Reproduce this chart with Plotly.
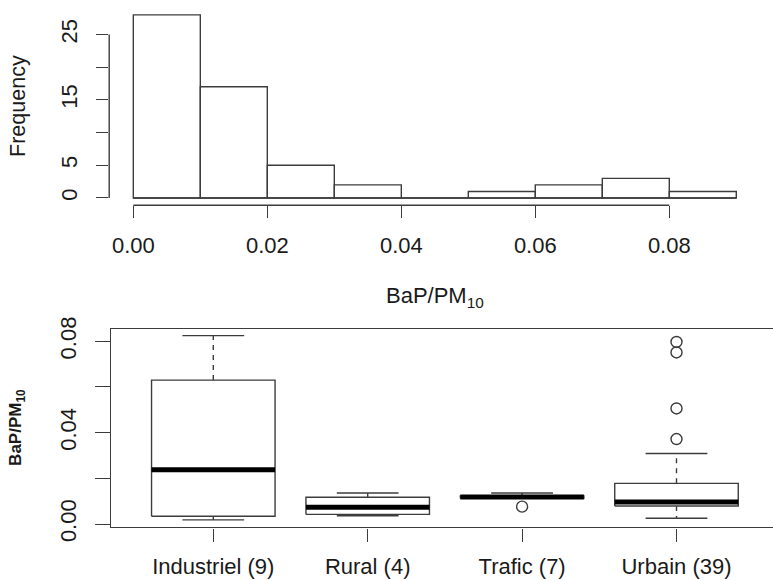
import plotly.graph_objects as go

# ---------------- data ----------------
bin_edges = [0.00, 0.01, 0.02, 0.03, 0.04, 0.05, 0.06, 0.07, 0.08, 0.09]
counts = [28, 17, 5, 2, 0, 1, 2, 3, 1]
hist_xticks = [0.00, 0.02, 0.04, 0.06, 0.08]
hist_yticks = [0, 5, 10, 15, 20, 25]
hist_ylabeled = [0, 5, 15, 25]

categories = ["Industriel (9)", "Rural (4)", "Trafic (7)", "Urbain (39)"]
lower = [0.0018, 0.0036, 0.0113, 0.0025]
q1 = [0.0034, 0.0042, 0.0113, 0.0079]
median = [0.0237, 0.0073, 0.0118, 0.0096]
q3 = [0.0630, 0.0117, 0.0123, 0.0178]
upper = [0.0825, 0.0136, 0.0136, 0.0309]
outliers = [[], [], [0.0076], [0.0372, 0.0506, 0.0751, 0.0797]]
box_yticks = [0.00, 0.02, 0.04, 0.06, 0.08]
box_ylabeled = [0.00, 0.04, 0.08]

# ---------------- style ----------------
LINE = "#3c3c3c"
TXT = "#1a1a1a"
FONT = "Liberation Sans, Arial, sans-serif"
FS = 22
W, H = 773, 581

def px(x):
    return x / W

def py(y):
    return 1 - y / H

fig = go.Figure()

# Histogram bars
centers = [(a + b) / 2 for a, b in zip(bin_edges[:-1], bin_edges[1:])]
widths = [b - a for a, b in zip(bin_edges[:-1], bin_edges[1:])]
fig.add_trace(go.Bar(
    x=centers, y=counts, width=widths,
    marker=dict(color="white", line=dict(color=LINE, width=1.4)),
    xaxis="x", yaxis="y", hoverinfo="skip"))
fig.add_trace(go.Scatter(
    x=[bin_edges[0], bin_edges[-1]], y=[0, 0], mode="lines",
    line=dict(color=LINE, width=1.4), xaxis="x", yaxis="y", hoverinfo="skip"))

# Boxplot drawn from the summary arrays
w, cw = 0.4, 0.2
bx, by, mx, my, wx, wy, cx, cy, ox, oy = [], [], [], [], [], [], [], [], [], []
for i in range(len(categories)):
    p = i + 1
    bx += [p - w, p + w, p + w, p - w, p - w, None]
    by += [q1[i], q1[i], q3[i], q3[i], q1[i], None]
    mx += [p - w, p + w, None]
    my += [median[i], median[i], None]
    wx += [p, p, None, p, p, None]
    wy += [q3[i], upper[i], None, q1[i], lower[i], None]
    cx += [p - cw, p + cw, None, p - cw, p + cw, None]
    cy += [upper[i], upper[i], None, lower[i], lower[i], None]
    for v in outliers[i]:
        ox.append(p)
        oy.append(v)

fig.add_trace(go.Scatter(x=wx, y=wy, mode="lines", xaxis="x2", yaxis="y2",
                         line=dict(color=LINE, width=1.4, dash="5px,5px"), hoverinfo="skip"))
fig.add_trace(go.Scatter(x=cx, y=cy, mode="lines", xaxis="x2", yaxis="y2",
                         line=dict(color=LINE, width=1.4), hoverinfo="skip"))
fig.add_trace(go.Scatter(x=bx, y=by, mode="lines", fill="toself", fillcolor="white",
                         xaxis="x2", yaxis="y2",
                         line=dict(color=LINE, width=1.4), hoverinfo="skip"))
fig.add_trace(go.Scatter(x=mx, y=my, mode="lines", xaxis="x2", yaxis="y2",
                         line=dict(color="black", width=5), hoverinfo="skip"))
fig.add_trace(go.Scatter(x=ox, y=oy, mode="markers", xaxis="x2", yaxis="y2",
                         marker=dict(symbol="circle-open", size=11,
                                     color=LINE, line=dict(color=LINE, width=1.4)),
                         hoverinfo="skip"))

tickfont = dict(family=FONT, size=FS, color=TXT)

fig.update_layout(
    template="none",
    width=W, height=H,
    margin=dict(l=0, r=0, t=0, b=0, pad=0, autoexpand=False),
    paper_bgcolor="white", plot_bgcolor="white",
    showlegend=False,
    font=dict(family=FONT, size=FS, color=TXT),
    xaxis=dict(domain=[px(109.2), px(760.4)], range=[-0.0036, 0.0936],
               tickvals=hist_xticks, ticktext=[f"{v:.2f}" for v in hist_xticks],
               ticks="outside", ticklen=12, tickwidth=1.4, tickcolor=LINE,
               showgrid=False, zeroline=False, showline=False, automargin=False,
               tickfont=tickfont, ticklabelstandoff=8, anchor="y"),
    yaxis=dict(domain=[py(205.3), py(7.55)], range=[-1.12, 29.12],
               tickvals=hist_ylabeled, ticktext=[str(v) for v in hist_ylabeled],
               tickangle=-90,
               ticks="outside", ticklen=12, tickwidth=1.4, tickcolor=LINE,
               minor=dict(tickvals=hist_yticks, ticks="outside", ticklen=12,
                          tickwidth=1.4, tickcolor=LINE, showgrid=False),
               showgrid=False, zeroline=False, showline=False, automargin=False,
               tickfont=tickfont, ticklabelstandoff=10, anchor="x"),
    xaxis2=dict(domain=[px(111.4), 1.0], range=[0.34, 4.625],
                tickvals=list(range(1, len(categories) + 1)), ticktext=categories,
                ticks="outside", ticklen=13, tickwidth=1.4, tickcolor=LINE,
                showgrid=False, zeroline=False, showline=True, linecolor=LINE,
                linewidth=1.4, mirror=True, automargin=False,
                tickfont=tickfont, ticklabelstandoff=6, anchor="y2"),
    yaxis2=dict(domain=[py(527.3), py(328.5)], range=[-0.001445, 0.0856],
                tickvals=box_ylabeled, ticktext=[f"{v:.2f}" for v in box_ylabeled],
                tickangle=-90,
                ticks="outside", ticklen=15, tickwidth=1.4, tickcolor=LINE,
                minor=dict(tickvals=box_yticks, ticks="outside", ticklen=15,
                           tickwidth=1.4, tickcolor=LINE, showgrid=False),
                showgrid=False, zeroline=False, showline=True, linecolor=LINE,
                linewidth=1.4, automargin=False,
                tickfont=tickfont, ticklabelstandoff=10, anchor="x2"),
    shapes=[
        dict(type="line", xref="x", yref="y domain",
             x0=hist_xticks[0], x1=hist_xticks[-1], y0=0, y1=0,
             line=dict(color=LINE, width=1.4)),
        dict(type="line", xref="x domain", yref="y",
             x0=0, x1=0, y0=hist_yticks[0], y1=hist_yticks[-1],
             line=dict(color=LINE, width=1.4)),
    ],
    annotations=[
        dict(text="Frequency", xref="paper", yref="y domain", x=px(18.5), y=0.5,
             textangle=-90, showarrow=False, xanchor="center", yanchor="middle",
             font=dict(family=FONT, size=21.5, color=TXT)),
        dict(text="BaP/PM<sub>10</sub>", xref="x domain", yref="paper", x=0.5,
             y=py(297), showarrow=False, xanchor="center", yanchor="middle",
             font=dict(family=FONT, size=FS, color=TXT)),
        dict(text="<b>BaP/PM<sub>10</sub></b>", xref="paper", yref="y2 domain",
             x=px(17), y=0.5, textangle=-90, showarrow=False,
             xanchor="center", yanchor="middle",
             font=dict(family=FONT, size=17, color=TXT)),
    ],
)

fig.write_html("out.html",
               config={"displayModeBar": False},
               post_script="document.body.style.margin='0px';document.body.style.overflow='hidden';")
